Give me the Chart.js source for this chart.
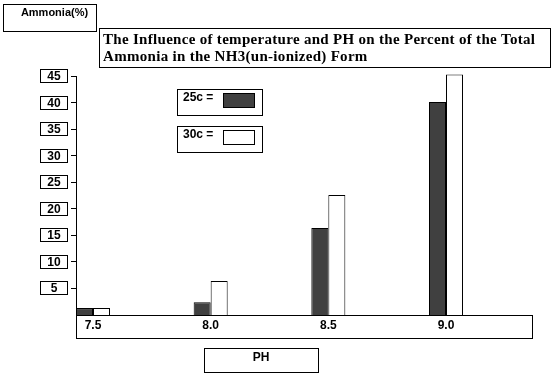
<!DOCTYPE html>
<html>
<head>
<meta charset="utf-8">
<script src="https://cdn.jsdelivr.net/npm/chart.js@4.4.0/dist/chart.umd.min.js"></script>
<style>
  html, body { margin: 0; padding: 0; background: #fff; }
  #wrap { width: 553px; height: 390px; }
</style>
</head>
<body>
<div id="wrap"><canvas id="myChart" width="553" height="390"></canvas></div>
<script>
// percent of total ammonia in un-ionized form
const phLevels = [7.5, 8.0, 8.5, 9.0];
const ammonia25 = [1.3, 2.4, 16.4, 40.1];
const ammonia30 = [1.3, 6.4, 22.6, 45.3];
const seriesLabels = ["25c =", "30c ="];
const yTicks = [5, 10, 15, 20, 25, 30, 35, 40, 45];

const titleLines = [
  "The Influence of temperature and PH on the Percent of the Total",
  "Ammonia in the NH3(un-ionized) Form",
];
const yTitle = "Ammonia(%)";
const xTitle = "PH";

const sans = '"Liberation Sans", Arial, sans-serif';
const serif = '"Liberation Serif", "Times New Roman", serif';

// old style chart: every label sits in its own little box
const boxes = {
  id: "boxes",
  afterDraw(chart) {
    const ctx = chart.ctx;
    const area = chart.chartArea;
    const yScale = chart.scales.y;
    ctx.save();
    ctx.strokeStyle = "#000";
    ctx.fillStyle = "#000";
    ctx.lineWidth = 1;

    // y axis title
    ctx.strokeRect(3.5, 4.5, 93, 27);
    ctx.font = "bold 11px " + sans;
    ctx.textAlign = "center";
    ctx.textBaseline = "alphabetic";
    ctx.fillText(yTitle, 54.5, 16);

    // chart title
    ctx.strokeRect(99.5, 28.5, 451, 39);
    ctx.font = "bold 15px " + serif;
    ctx.letterSpacing = "0.3px";
    ctx.textAlign = "left";
    ctx.fillText(titleLines[0], 103, 44);
    ctx.fillText(titleLines[1], 103, 61);
    ctx.letterSpacing = "0px";

    // y tick labels
    ctx.font = "bold 12px " + sans;
    ctx.textAlign = "center";
    yTicks.forEach((v) => {
      const py = Math.round(yScale.getPixelForValue(v));
      ctx.strokeRect(40.5, py - 6.5, 27, 13);
      ctx.fillText(String(v), 54, py + 4);
    });

    // box under the x axis
    ctx.strokeRect(area.left + 0.5, area.bottom + 0.5, area.right - area.left, 23);

    // legend
    const tops = [89.5, 126.5];
    chart.data.datasets.forEach((ds, i) => {
      const t = tops[i];
      ctx.strokeStyle = "#000";
      ctx.strokeRect(177.5, t, 85, 26);
      ctx.fillStyle = ds.backgroundColor;
      ctx.fillRect(223.5, t + 4, 31, 14);
      ctx.strokeRect(223.5, t + 4, 31, 14);
      ctx.fillStyle = "#000";
      ctx.textAlign = "left";
      ctx.fillText(ds.label, 183, t + 11);
    });

    // x axis title
    ctx.strokeRect(204.5, 348.5, 114, 24);
    ctx.textAlign = "center";
    ctx.fillText(xTitle, 261, 361);

    ctx.restore();
  },
};

const ctx = document.getElementById("myChart");

new Chart(ctx, {
  type: "bar",
  data: {
    datasets: [
      {
        label: seriesLabels[0],
        data: phLevels.map((p, i) => ({ x: p, y: ammonia25[i] })),
        backgroundColor: "#404040",
        borderColor: "#000",
        borderWidth: 1,
        clip: false,
      },
      {
        label: seriesLabels[1],
        data: phLevels.map((p, i) => ({ x: p, y: ammonia30[i] })),
        backgroundColor: "#ffffff",
        borderColor: "#000",
        borderWidth: 1,
        clip: false,
      },
    ],
  },
  options: {
    responsive: false,
    animation: false,
    devicePixelRatio: 1,
    layout: { padding: { top: 76, right: 21, left: 0, bottom: 0 } },
    categoryPercentage: 0.289,
    barPercentage: 1,
    plugins: {
      legend: { display: false },
      title: { display: false },
      tooltip: { enabled: false },
    },
    scales: {
      x: {
        type: "linear",
        min: 7.4278,
        max: 9.3654,
        offset: false,
        grid: { display: false },
        border: { color: "#000" },
        afterBuildTicks: (s) => {
          s.ticks = phLevels.map((v) => ({ value: v }));
        },
        afterFit: (s) => {
          s.height = 75;
        },
        ticks: {
          autoSkip: false,
          maxRotation: 0,
          padding: -5,
          color: "#000",
          font: { family: sans, size: 12, weight: "bold" },
          callback: (v) => Number(v).toFixed(1),
        },
      },
      y: {
        min: 0,
        max: 45,
        grid: { drawOnChartArea: false, tickLength: 5, color: "#000" },
        border: { color: "#000" },
        ticks: { display: false },
        afterBuildTicks: (s) => {
          s.ticks = yTicks.map((v) => ({ value: v }));
        },
        afterFit: (s) => {
          s.width = 76;
        },
      },
    },
  },
  plugins: [boxes],
});
</script>
</body>
</html>
